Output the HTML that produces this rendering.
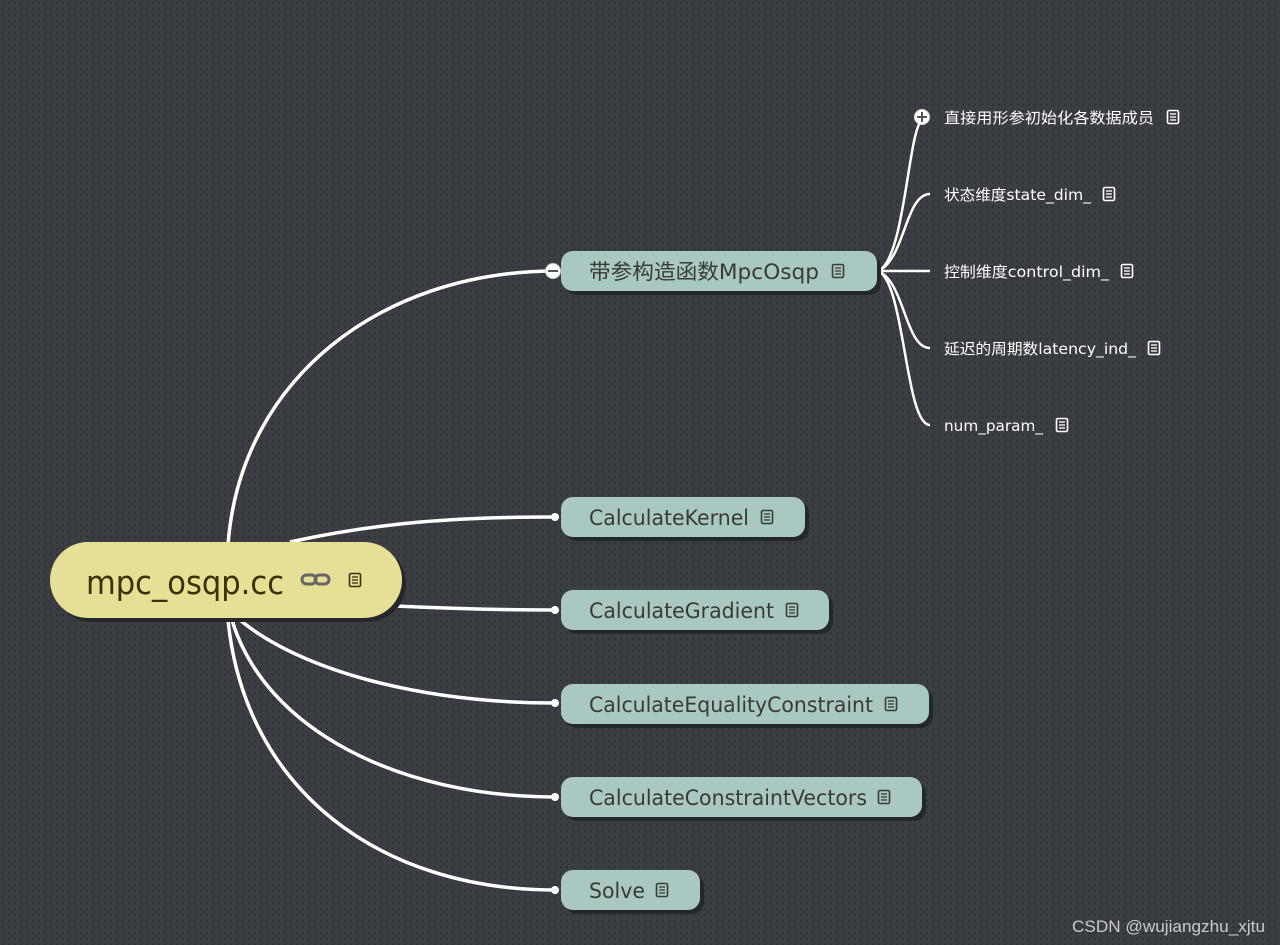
<!DOCTYPE html>
<html><head><meta charset="utf-8"><style>
html,body{margin:0;padding:0;width:1280px;height:945px;overflow:hidden;background:#383c41;}
svg{display:block}
</style></head><body>
<svg width="1280" height="945" xmlns="http://www.w3.org/2000/svg" font-family="'Liberation Sans','Noto Sans CJK SC',sans-serif">
<defs>
<pattern id="dots" width="6" height="6" patternUnits="userSpaceOnUse">
<rect width="6" height="6" fill="#3a3e43"/><rect x="2" y="2" width="2" height="2" fill="#2f3236"/>
</pattern>
<g id="note"><rect x="0.5" y="0.5" width="11" height="13" rx="1.5" fill="none" stroke-width="1.6"/><line x1="3" y1="4" x2="9" y2="4" stroke-width="1.3"/><line x1="3" y1="7" x2="9" y2="7" stroke-width="1.3"/><line x1="3" y1="10" x2="9" y2="10" stroke-width="1.3"/></g>
</defs>
<rect width="1280" height="945" fill="url(#dots)"/>

<g fill="none" stroke="#fff" stroke-width="3.5">
<path d="M228,545 C240,380 380,272 553,271"/>
<path d="M290,542 C380,522 460,517 555,517"/>
<path d="M395,606 C460,609 500,610 555,610"/>
<path d="M240,620 C300,670 420,703 555,703"/>
<path d="M232,620 C265,730 400,797 555,797"/>
<path d="M228,620 C245,790 380,890 555,890"/>
</g>
<g fill="#fff">
<circle cx="555" cy="517" r="4"/><circle cx="555" cy="610" r="4"/><circle cx="555" cy="703" r="4"/><circle cx="555" cy="797" r="4"/><circle cx="555" cy="890" r="4"/>
</g>
<circle cx="553" cy="271" r="7.5" fill="#fff" stroke="#ccc" stroke-width="1"/>
<line x1="548" y1="271" x2="558" y2="271" stroke="#555" stroke-width="2"/>

<g fill="none" stroke="#fff" stroke-width="2.5">
<path d="M878,271 C905,260 908,130 922,120"/>
<path d="M878,271 C905,260 905,194 930,194"/>
<path d="M878,271 L930,271"/>
<path d="M878,271 C905,282 905,348 930,348"/>
<path d="M878,271 C905,282 905,425 930,425"/>
</g>
<circle cx="922" cy="117" r="7.5" fill="#fff" stroke="#ddd"/>
<line x1="917" y1="117" x2="927" y2="117" stroke="#555" stroke-width="2"/>
<line x1="922" y1="112" x2="922" y2="122" stroke="#555" stroke-width="2"/>

<rect x="54" y="546" width="352" height="76" rx="38" fill="#25282b"/>
<rect x="50" y="542" width="352" height="76" rx="38" fill="#e6df96"/>
<text x="86" y="594" font-size="33" fill="#3a3000" textLength="198" lengthAdjust="spacingAndGlyphs" font-family="'DejaVu Sans','Liberation Sans',sans-serif">mpc_osqp.cc</text>
<g stroke="#666" stroke-width="3" fill="none"><rect x="302" y="575" width="14" height="9" rx="4.5"/><rect x="315" y="575" width="14" height="9" rx="4.5"/></g>
<g transform="translate(349,573)" stroke="#3a3000"><use href="#note"/></g>

<g font-size="21" fill="#3a3a3a" font-family="'DejaVu Sans','Liberation Sans','Noto Sans CJK SC',sans-serif">
<rect x="565" y="255" width="316" height="40" rx="12" fill="#25282b"/>
<rect x="561" y="251" width="316" height="40" rx="12" fill="#a8c8c1"/>
<text x="589" y="279" textLength="230" lengthAdjust="spacingAndGlyphs">带参构造函数MpcOsqp</text>

<rect x="565" y="501" width="244" height="40" rx="12" fill="#25282b"/>
<rect x="561" y="497" width="244" height="40" rx="12" fill="#a8c8c1"/>
<text x="589" y="525" textLength="160" lengthAdjust="spacingAndGlyphs">CalculateKernel</text>

<rect x="565" y="594" width="268" height="40" rx="12" fill="#25282b"/>
<rect x="561" y="590" width="268" height="40" rx="12" fill="#a8c8c1"/>
<text x="589" y="618" textLength="185" lengthAdjust="spacingAndGlyphs">CalculateGradient</text>

<rect x="565" y="688" width="368" height="40" rx="12" fill="#25282b"/>
<rect x="561" y="684" width="368" height="40" rx="12" fill="#a8c8c1"/>
<text x="589" y="712" textLength="284" lengthAdjust="spacingAndGlyphs">CalculateEqualityConstraint</text>

<rect x="565" y="781" width="361" height="40" rx="12" fill="#25282b"/>
<rect x="561" y="777" width="361" height="40" rx="12" fill="#a8c8c1"/>
<text x="589" y="805" textLength="278" lengthAdjust="spacingAndGlyphs">CalculateConstraintVectors</text>

<rect x="565" y="874" width="139" height="40" rx="12" fill="#25282b"/>
<rect x="561" y="870" width="139" height="40" rx="12" fill="#a8c8c1"/>
<text x="589" y="898" textLength="56" lengthAdjust="spacingAndGlyphs">Solve</text>
</g>
<g stroke="#3a3a3a">
<g transform="translate(832,264)"><use href="#note"/></g>
<g transform="translate(761,510)"><use href="#note"/></g>
<g transform="translate(786,603)"><use href="#note"/></g>
<g transform="translate(885,697)"><use href="#note"/></g>
<g transform="translate(878,790)"><use href="#note"/></g>
<g transform="translate(656,883)"><use href="#note"/></g>
</g>

<g font-size="15" fill="#fff" font-family="'DejaVu Sans','Liberation Sans','Noto Sans CJK SC',sans-serif">
<text x="944" y="123" textLength="210" lengthAdjust="spacingAndGlyphs">直接用形参初始化各数据成员</text>
<text x="944" y="200" textLength="147" lengthAdjust="spacingAndGlyphs">状态维度state_dim_</text>
<text x="944" y="277" textLength="165" lengthAdjust="spacingAndGlyphs">控制维度control_dim_</text>
<text x="944" y="354" textLength="192" lengthAdjust="spacingAndGlyphs">延迟的周期数latency_ind_</text>
<text x="944" y="431" textLength="99" lengthAdjust="spacingAndGlyphs">num_param_</text>
</g>
<g stroke="#fff">
<g transform="translate(1167,110)"><use href="#note"/></g>
<g transform="translate(1103,187)"><use href="#note"/></g>
<g transform="translate(1121,264)"><use href="#note"/></g>
<g transform="translate(1148,341)"><use href="#note"/></g>
<g transform="translate(1056,418)"><use href="#note"/></g>
</g>

<text x="1072" y="932" font-size="17" fill="#c8cacc" textLength="193" lengthAdjust="spacingAndGlyphs" font-family="'Liberation Sans',sans-serif">CSDN @wujiangzhu_xjtu</text>
</svg>
</body></html>
